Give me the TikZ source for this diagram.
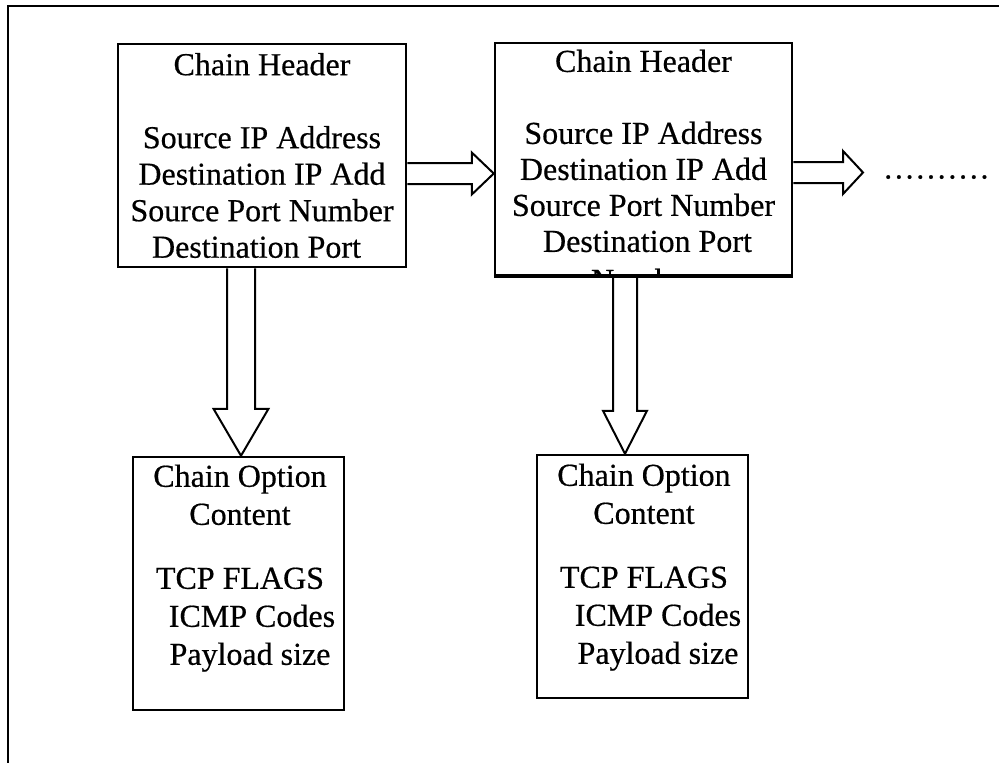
\documentclass[tikz,border=0pt]{standalone}
\usepackage{fontspec}
\setmainfont{Liberation Serif}[FakeBold=0.5]
\usetikzlibrary{calc}

\tikzset{
  box/.style={draw, line width=2.5pt, inner sep=0pt, anchor=center},
  lines/.style={align=center, inner sep=0pt, anchor=north},
  blk/.style={draw, line width=2pt, line join=miter},
  frame/.style={line width=2pt},
}

% hollow block arrow pointing right: start, tip, shaft half-width, head half-width, head length
\newcommand\hollowright[5]{%
  \draw[blk] ($(#1)+(0,-#3)$) -- ($(#2)+(-#5,-#3)$) -- ($(#2)+(-#5,-#4)$) -- (#2)
    -- ($(#2)+(-#5,#4)$) -- ($(#2)+(-#5,#3)$) -- ($(#1)+(0,#3)$);}
% hollow block arrow pointing down: start, tip, shaft half-width, head half-width, head length
\newcommand\hollowdown[5]{%
  \draw[blk] ($(#1)+(-#3,0)$) -- ($(#2)+(-#3,-#5)$) -- ($(#2)+(-#4,-#5)$) -- (#2)
    -- ($(#2)+(#4,-#5)$) -- ($(#2)+(#3,-#5)$) -- ($(#1)+(#3,0)$);}

\begin{document}
\begin{tikzpicture}[x=1pt, y=-1pt]
  \useasboundingbox (0,0) rectangle (999,763);
  \clip (0,0) rectangle (999,763);

  % outer frame (runs off the right and bottom edges)
  \draw[frame] (8,775) -- (8,6) -- (1010,6);

  % chain header boxes
  \node[box, minimum width=288pt, minimum height=223pt] (b1) at (262,155.5) {};
  \node[box, minimum width=297pt, minimum height=232pt] (b2) at (643.5,159) {};
  % chain option boxes
  \node[box, minimum width=211pt, minimum height=253pt] (b3) at (238.5,583.5) {};
  \node[box, minimum width=211pt, minimum height=243pt] (b4) at (642.5,576.5) {};

  % header texts
  \node[lines, font=\fontsize{32}{36.5}\selectfont] (t1) at (262,49.45)
    {\strut Chain Header\\[36.5pt] Source IP Address\\ Destination IP Add\\
     Source Port Number\\ Destination Port\hspace*{11pt}};
  \begin{scope}
    \clip (b2.north west) rectangle (b2.south east);
    \node[lines, font=\fontsize{32}{36}\selectfont] (t2) at (643.5,46.5)
      {\strut Chain Header\\[36pt] Source IP Address\\ Destination IP Add\\
       Source Port Number\\ \hspace*{8pt}Destination Port\\[3pt] Number};
  \end{scope}
  % redraw the border over the clipped text
  \draw[line width=2.5pt] (b2.south west) -- (b2.south east);

  % option texts
  \node[lines, font=\fontsize{32}{38}\selectfont] (t3) at (240,460)
    {\strut Chain Option\\ Content\\[26pt] TCP FLAGS\\
     \hspace*{24pt}ICMP Codes\\ \hspace*{20pt}Payload size};
  \node[lines, font=\fontsize{32}{38}\selectfont] (t4) at (644,459)
    {\strut Chain Option\\ Content\\[26pt] TCP FLAGS\\
     \hspace*{28pt}ICMP Codes\\ \hspace*{28pt}Payload size};

  % continuation dots
  \node[anchor=base west, inner sep=0pt, font=\fontsize{32}{36}\selectfont] (more) at (884,178.5)
    {.\kern2.7pt.\kern2.7pt.\kern2.7pt.\kern2.7pt.\kern2.7pt.\kern2.7pt.\kern2.7pt.\kern2.7pt.\kern2.7pt.};

  % arrow reference lines
  \coordinate (r1) at (0,173.5);
  \coordinate (r2) at (0,172.5);
  \coordinate (c1) at (241,0);
  \coordinate (c2) at (625,0);
  \coordinate (nxt) at (863,172.5);

  % horizontal links between headers
  \hollowright{b1.east |- r1}{b2.west |- r1}{10.5}{21}{22}
  \hollowright{b2.east |- r2}{nxt}{10.5}{21.5}{20}

  % vertical links from header to option box
  \hollowdown{b1.south -| c1}{b3.north -| c1}{14}{27.5}{47}
  \hollowdown{b2.south -| c2}{b4.north -| c2}{12}{22}{43}
\end{tikzpicture}
\end{document}
